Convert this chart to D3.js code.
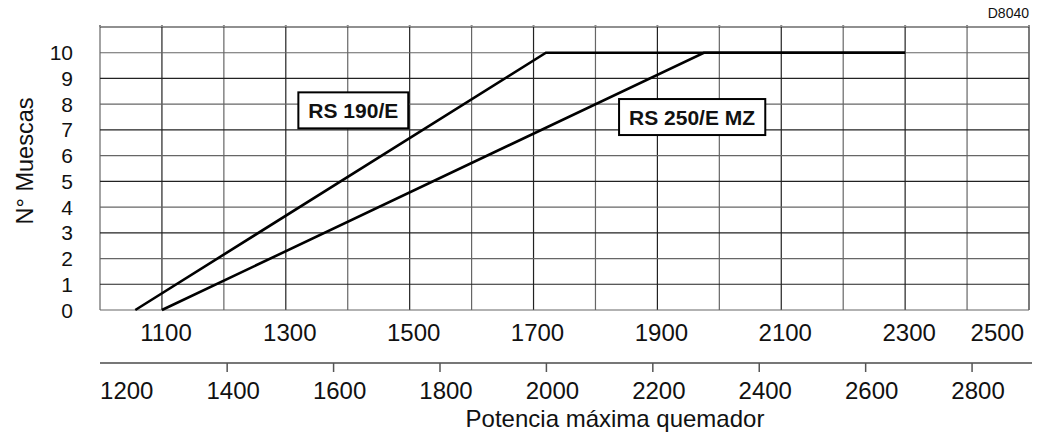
<!DOCTYPE html>
<html>
<head>
<meta charset="utf-8">
<script src="https://cdn.jsdelivr.net/npm/d3@7"></script>
<style>
  body { margin: 0; background: #fff; }
  text { font-family: "Liberation Sans", Arial, sans-serif; fill: #111; }
</style>
</head>
<body>
<svg id="chart" width="1043" height="439"></svg>
<script>
// data
var topTicks = [1100, 1300, 1500, 1700, 1900, 2100, 2300, 2500];
var bottomTicks = [1200, 1400, 1600, 1800, 2000, 2200, 2400, 2600, 2800];
var yTicks = [0, 1, 2, 3, 4, 5, 6, 7, 8, 9, 10];
var rs190 = [[1057, 0], [1720, 10], [2300, 10]];
var rs250 = [[1100, 0], [1975, 10], [2300, 10]];
var seriesNames = ["RS 190/E", "RS 250/E MZ"];
var labelAt = [[1409, 7.76], [1956, 7.5]];

var svg = d3.select("#chart");

var x = d3.scaleLinear().domain([1000, 2500]).range([100, 1029]);
var x2 = d3.scaleLinear().domain([1161, 2907]).range([100, 1029]);
var y = d3.scaleLinear().domain([0, 11]).range([310, 27]);

// grid
var grid = svg.append("g");
grid.selectAll("line.v")
    .data(d3.range(1000, 2501, 100))
    .enter().append("line")
    .attr("x1", d => x(d)).attr("x2", d => x(d))
    .attr("y1", y(0)).attr("y2", y(11))
    .attr("stroke", (d, i) => i % 2 ? "#222" : "#666")
    .attr("stroke-width", 1.2);
grid.selectAll("line.h")
    .data(d3.range(0, 12))
    .enter().append("line")
    .attr("x1", x(1000)).attr("x2", x(2500))
    .attr("y1", d => y(d)).attr("y2", d => y(d))
    .attr("stroke", (d, i) => i % 2 ? "#222" : "#666")
    .attr("stroke-width", 1.2);

// little grey stubs on the frame
grid.selectAll("line.st")
    .data(d3.range(1000, 2501, 100))
    .enter().append("line")
    .attr("x1", d => x(d)).attr("x2", d => x(d))
    .attr("y1", y(11) - 2).attr("y2", y(11))
    .attr("stroke", "#888").attr("stroke-width", 2);

// curves
var line = d3.line().x(d => x(d[0])).y(d => y(d[1]));
svg.selectAll("path.curve")
    .data([rs190, rs250])
    .enter().append("path")
    .attr("d", line)
    .attr("fill", "none")
    .attr("stroke", "#000")
    .attr("stroke-width", 2.6);

// series boxes
seriesNames.forEach(function (name, i) {
    var g = svg.append("g");
    var t = g.append("text")
        .attr("x", x(labelAt[i][0]))
        .attr("y", y(labelAt[i][1]))
        .attr("dy", "0.36em")
        .attr("text-anchor", "middle")
        .style("font-size", "21px")
        .style("font-weight", "bold")
        .text(name);
    var bb = t.node().getBBox();
    g.insert("rect", "text")
        .attr("x", bb.x - 10)
        .attr("y", y(labelAt[i][1]) - 18)
        .attr("width", bb.width + 20)
        .attr("height", 36)
        .attr("fill", "#fff")
        .attr("stroke", "#000")
        .attr("stroke-width", 2);
});

// y labels
svg.selectAll("text.yt")
    .data(yTicks)
    .enter().append("text")
    .attr("x", 73)
    .attr("y", d => y(d))
    .attr("dy", "0.36em")
    .attr("text-anchor", "end")
    .style("font-size", "21px")
    .text(d => d);

svg.append("text")
    .attr("transform", "translate(25,161) rotate(-90)")
    .attr("dy", "0.36em")
    .attr("text-anchor", "middle")
    .style("font-size", "23.5px")
    .text("N° Muescas");

// top scale labels
svg.selectAll("text.xt")
    .data(topTicks)
    .enter().append("text")
    .attr("x", (d, i) => i == topTicks.length - 1 ? x(d) - 5 : x(d) + 4)
    .attr("y", 341)
    .attr("text-anchor", (d, i) => i == topTicks.length - 1 ? "end" : "middle")
    .style("font-size", "24px")
    .text(d => d);

// second scale
var ax = svg.append("g");
ax.append("line")
    .attr("x1", x2.range()[0]).attr("x2", x2.range()[1] + 3)
    .attr("y1", 363).attr("y2", 363)
    .attr("stroke", "#777").attr("stroke-width", 2);
ax.selectAll("line.tk")
    .data(bottomTicks.slice(1))
    .enter().append("line")
    .attr("x1", d => x2(d)).attr("x2", d => x2(d))
    .attr("y1", 363).attr("y2", 372)
    .attr("stroke", "#555").attr("stroke-width", 1.5);
ax.selectAll("text.bt")
    .data(bottomTicks)
    .enter().append("text")
    .attr("x", d => x2(d) + 6)
    .attr("y", 399)
    .attr("text-anchor", "middle")
    .style("font-size", "24px")
    .text(d => d);

svg.append("text")
    .attr("x", 615)
    .attr("y", 427)
    .attr("text-anchor", "middle")
    .style("font-size", "24px")
    .text("Potencia máxima quemador");

svg.append("text")
    .attr("x", 1029)
    .attr("y", 18)
    .attr("text-anchor", "end")
    .style("font-size", "14px")
    .text("D8040");
</script>
</body>
</html>
